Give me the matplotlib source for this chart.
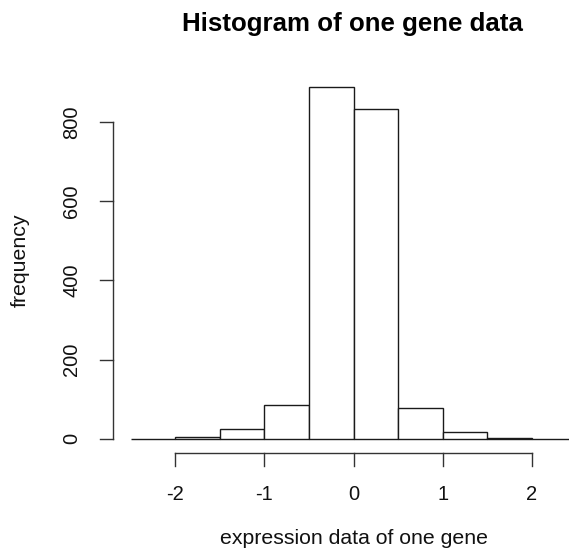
import matplotlib
matplotlib.use("Agg")
import matplotlib.pyplot as plt

bin_edges = [-2.5, -2.0, -1.5, -1.0, -0.5, 0.0, 0.5, 1.0, 1.5, 2.0, 2.5]
counts = [0, 5, 25, 86, 888, 833, 79, 17, 2, 0]
x_ticks = [-2, -1, 0, 1, 2]
x_tick_labels = ["-2", "-1", "0", "1", "2"]
y_ticks = [0, 200, 400, 600, 800]
y_tick_labels = ["0", "200", "400", "600", "800"]
title = "Histogram of one gene data"
xlabel = "expression data of one gene"
ylabel = "frequency"

plt.rcParams['font.family'] = ['Liberation Sans', 'DejaVu Sans']

W, H = 569, 557
fig = plt.figure(figsize=(W / 100, H / 100), dpi=100)
fig.patch.set_facecolor('white')

# plot region in pixels (R-style usr extends 4% beyond data)
left_px, right_px = 113, 594
bottom_px, top_px = 453, 73
xlim = (-2.7, 2.7)
ylim = (-35.5, 923.5)
ax = fig.add_axes([left_px / W, (H - bottom_px) / H,
                   (right_px - left_px) / W, (bottom_px - top_px) / H])
ax.set_xlim(*xlim)
ax.set_ylim(*ylim)
ax.axis('off')

widths = [bin_edges[i + 1] - bin_edges[i] for i in range(len(counts))]
ax.bar(bin_edges[:-1], counts, width=widths, align='edge',
       facecolor='white', edgecolor='#1a1a1a', linewidth=1.0, clip_on=False)

ax_col = '#333333'
px_x = (right_px - left_px) / (xlim[1] - xlim[0])   # px per x unit
px_y = (bottom_px - top_px) / (ylim[1] - ylim[0])   # px per y unit
tick_len = 13

# x axis
ax.plot([x_ticks[0], x_ticks[-1]], [ylim[0], ylim[0]], color=ax_col, lw=1.0, clip_on=False)
for t, lab in zip(x_ticks, x_tick_labels):
    ax.plot([t, t], [ylim[0], ylim[0] - tick_len / px_y], color=ax_col, lw=1.0, clip_on=False)
    ax.text(t, ylim[0] - (500 - bottom_px) / px_y, lab, ha='center', va='baseline',
            fontsize=14.5, color='#111111')

# y axis
ax.plot([xlim[0], xlim[0]], [y_ticks[0], y_ticks[-1]], color=ax_col, lw=1.0, clip_on=False)
for t, lab in zip(y_ticks, y_tick_labels):
    ax.plot([xlim[0], xlim[0] - tick_len / px_x], [t, t], color=ax_col, lw=1.0, clip_on=False)
    ax.text(xlim[0] - (left_px - 72) / px_x, t, lab, ha='center', va='center',
            rotation=90, fontsize=14.5, color='#111111')

fig.text(354 / W, 1 - 544 / H, xlabel, ha='center', va='baseline', fontsize=15.3, color='#111111')
fig.text(20 / W, 1 - 260 / H, ylabel, ha='center', va='center', rotation=90,
         fontsize=15.3, color='#111111')
fig.text(352 / W, 1 - 30.5 / H, title, ha='center', va='baseline', fontsize=18.6,
         fontweight='bold', color='#000000')

fig.savefig('out.png', dpi=100)
